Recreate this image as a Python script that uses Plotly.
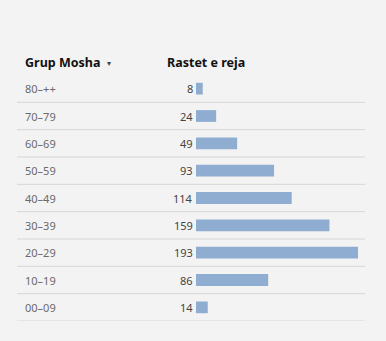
import plotly.graph_objects as go

groups = ["80–++", "70–79", "60–69", "50–59", "40–49", "30–39", "20–29", "10–19", "00–09"]
cases = [8, 24, 49, 93, 114, 159, 193, 86, 14]
header_group = "Grup Mosha"
header_value = "Rastet e reja"

W, H = 386, 341
ml, mr, mt, mb = 196, 28, 75, 20
pw = W - ml - mr

def px2paper(x):
    return (x - ml) / pw

idx = list(range(len(groups)))
fig = go.Figure(go.Bar(
    x=cases, y=idx, orientation="h",
    marker=dict(color="#8eadd0", line=dict(width=0)),
    width=0.43, hoverinfo="skip",
))

annotations = []
for i, (g, v) in enumerate(zip(groups, cases)):
    annotations.append(dict(x=px2paper(23), xref="paper", y=i, yref="y", text=g,
                            showarrow=False, xanchor="left", yanchor="middle",
                            font=dict(size=11, color="#6a6a6a")))
    annotations.append(dict(x=0, xref="x", y=i, yref="y", text=str(v),
                            showarrow=False, xanchor="right", yanchor="middle", xshift=-1,
                            font=dict(size=11, color="#444444")))

annotations.append(dict(x=px2paper(23), xref="paper", y=63, yref="paper", text="<b>" + header_group + "</b>",
                        showarrow=False, xanchor="left", yanchor="middle",
                        font=dict(size=12.5, color="#111111")))
annotations.append(dict(x=px2paper(105), xref="paper", y=62, yref="paper", text="▾",
                        showarrow=False, xanchor="left", yanchor="middle",
                        font=dict(size=8, color="#444444")))
annotations.append(dict(x=px2paper(165), xref="paper", y=63, yref="paper", text="<b>" + header_value + "</b>",
                        showarrow=False, xanchor="left", yanchor="middle",
                        font=dict(size=12.5, color="#111111")))

# convert header y pixel to paper
ph = H - mt - mb
for a in annotations:
    if a["yref"] == "paper":
        a["y"] = 1 - (a["y"] - mt) / ph

shapes = []
for i in idx:
    shapes.append(dict(type="line", xref="paper", yref="y",
                       x0=px2paper(17), x1=px2paper(365), y0=i + 0.5, y1=i + 0.5,
                       line=dict(color="#d6d6d6", width=1)))

fig.update_layout(
    width=W, height=H,
    margin=dict(l=ml, r=mr, t=mt, b=mb),
    paper_bgcolor="#f3f3f3", plot_bgcolor="#f3f3f3",
    font=dict(family="Noto Sans, Open Sans, sans-serif"),
    xaxis=dict(range=[0, 193], visible=False, fixedrange=True),
    yaxis=dict(range=[len(groups) - 0.5, -0.5], visible=False, fixedrange=True),
    annotations=annotations, shapes=shapes, showlegend=False,
)
fig.write_html("out.html", config={"displayModeBar": False})
